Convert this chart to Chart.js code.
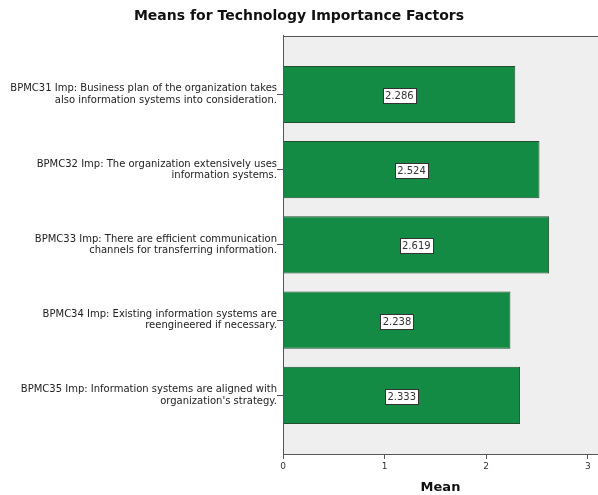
<!DOCTYPE html>
<html>
<head>
<meta charset="utf-8">
<script src="https://cdn.jsdelivr.net/npm/chart.js@4/dist/chart.umd.min.js"></script>
<style>
  html, body { margin: 0; padding: 0; background: #ffffff; }
</style>
</head>
<body>
<canvas id="c" width="598" height="495"></canvas>
<script>
// Category labels (two lines each), their means and the x-axis tick values
const categories = [
  ["BPMC31 Imp: Business plan of the organization takes", "also information systems into consideration."],
  ["BPMC32 Imp: The organization extensively uses", "information systems."],
  ["BPMC33 Imp: There are efficient communication", "channels for transferring information."],
  ["BPMC34 Imp: Existing information systems are", "reengineered if necessary."],
  ["BPMC35 Imp: Information systems are aligned with", "organization's strategy."]
];
const means = [2.286, 2.524, 2.619, 2.238, 2.333];
const xTicks = [0, 1, 2, 3];

const FONT = '"DejaVu Sans", "Liberation Sans", sans-serif';
const AXIS_COLOR = '#555555';

// Grey plot background with a top frame line
const plotBackground = {
  id: 'plotBackground',
  beforeDraw(chart) {
    const { ctx, chartArea: a } = chart;
    ctx.save();
    ctx.fillStyle = '#efefef';
    ctx.fillRect(a.left, a.top, a.right - a.left, a.bottom - a.top);
    ctx.strokeStyle = AXIS_COLOR;
    ctx.lineWidth = 1;
    ctx.beginPath();
    const y = Math.round(a.top) + 0.5;
    ctx.moveTo(a.left, y);
    ctx.lineTo(a.right, y);
    ctx.stroke();
    ctx.restore();
  }
};

// Boxed value label in the middle of each bar
const valueBoxes = {
  id: 'valueBoxes',
  afterDatasetsDraw(chart) {
    const { ctx } = chart;
    const meta = chart.getDatasetMeta(0);
    ctx.save();
    ctx.font = '10px ' + FONT;
    ctx.textAlign = 'center';
    ctx.textBaseline = 'middle';
    meta.data.forEach((bar, i) => {
      const txt = means[i].toFixed(3);
      const cx = (bar.x + bar.base) / 2;
      const cy = bar.y + 1;
      const w = Math.round(ctx.measureText(txt).width + 4);
      const h = 15;
      const x0 = Math.round(cx - w / 2) + 0.5;
      const y0 = Math.round(cy - h / 2) + 0.5;
      ctx.fillStyle = '#ffffff';
      ctx.fillRect(x0, y0, w, h);
      ctx.strokeStyle = '#333333';
      ctx.lineWidth = 1;
      ctx.strokeRect(x0, y0, w, h);
      ctx.fillStyle = '#333333';
      ctx.fillText(txt, cx, cy + 1);
    });
    ctx.restore();
  }
};

new Chart(document.getElementById('c'), {
  type: 'bar',
  data: {
    datasets: [{
      data: means.map((m, i) => ({ x: m, y: i })),
      backgroundColor: '#138b45',
      borderColor: '#1f4f2f',
      borderWidth: 1,
      barPercentage: 0.76,
      categoryPercentage: 1
    }]
  },
  options: {
    indexAxis: 'y',
    responsive: false,
    animation: false,
    devicePixelRatio: 1,
    layout: { padding: 0 },
    plugins: {
      legend: { display: false },
      tooltip: { enabled: false },
      title: {
        display: true,
        text: 'Means for Technology Importance Factors',
        color: '#111111',
        font: { family: FONT, size: 14, weight: 'bold' },
        padding: { top: 8, bottom: 11 }
      }
    },
    scales: {
      x: {
        type: 'linear',
        position: 'bottom',
        min: 0,
        max: 3.1,
        offset: false,
        afterBuildTicks(scale) { scale.ticks = xTicks.map(v => ({ value: v })); },
        afterFit(scale) { scale.height = 41; },
        border: { display: true, color: AXIS_COLOR, width: 1 },
        grid: { offset: false, drawOnChartArea: false, drawTicks: true, tickLength: 5, color: AXIS_COLOR },
        ticks: { color: '#333333', padding: 2, font: { family: FONT, size: 9 } },
        title: {
          display: true,
          text: 'Mean',
          color: '#111111',
          font: { family: FONT, size: 13, weight: 'bold' },
          padding: { top: 0, bottom: 0 }
        }
      },
      y: {
        type: 'linear',
        position: 'left',
        reverse: true,
        min: -0.78,
        max: 4.78,
        offset: false,
        afterBuildTicks(scale) { scale.ticks = categories.map((c, i) => ({ value: i })); },
        afterFit(scale) { scale.width = 283; },
        border: { display: true, color: AXIS_COLOR, width: 1 },
        grid: { offset: false, drawOnChartArea: false, drawTicks: true, tickLength: 6, color: AXIS_COLOR },
        ticks: {
          color: '#222222',
          padding: 0,
          autoSkip: false,
          font: { family: FONT, size: 10, lineHeight: 1.15 },
          callback: (v) => categories[v]
        }
      }
    }
  },
  plugins: [plotBackground, valueBoxes]
});
</script>
</body>
</html>
